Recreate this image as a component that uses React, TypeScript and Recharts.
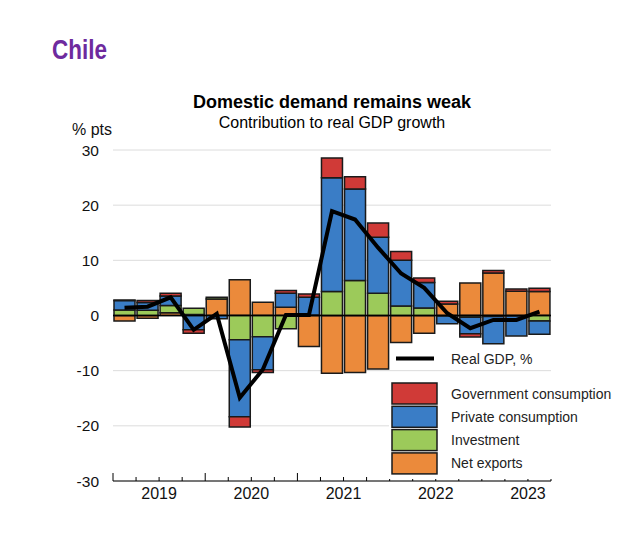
import React from 'react';
import {
  ComposedChart,
  Bar,
  Line,
  XAxis,
  YAxis,
  CartesianGrid,
  ReferenceLine,
} from 'recharts';

// ---- Data ----
const quarters = [
  '2019Q1', '2019Q2', '2019Q3', '2019Q4',
  '2020Q1', '2020Q2', '2020Q3', '2020Q4',
  '2021Q1', '2021Q2', '2021Q3', '2021Q4',
  '2022Q1', '2022Q2', '2022Q3', '2022Q4',
  '2023Q1', '2023Q2', '2023Q3',
];
const years = ['2019', '2020', '2021', '2022', '2023'];

const netExports = [-1.0, -0.5, 0.5, 0.2, 3.0, 6.5, 2.4, 1.5, -5.6, -10.45, -10.35, -9.7, -4.9, -3.2, 2.1, 5.9, 7.7, 4.4, 4.35];
const investment = [1.0, 0.95, 1.3, 1.1, 0.3, -4.4, -3.85, -2.4, 0.1, 4.35, 6.35, 4.05, 1.7, 1.35, -0.1, -0.3, -0.2, -0.1, -1.0];
const privateCons = [1.7, 1.4, 1.75, -2.6, -0.6, -13.95, -6.0, 2.55, 3.2, 20.6, 16.6, 10.15, 8.3, 4.65, -1.4, -3.0, -4.9, -3.6, -2.4];
const governmentCons = [0.1, 0.35, 0.5, -0.6, 0, -1.85, -0.5, 0.5, 0.6, 3.6, 2.2, 2.55, 1.6, 0.8, 0.5, -0.6, 0.45, 0.4, 0.6];
const realGDP = [1.4, 1.6, 3.3, -2.6, 0.3, -14.9, -9.8, 0.1, 0.1, 18.9, 17.4, 12.3, 7.6, 5.0, 0.4, -2.3, -0.8, -0.8, 0.7];

const yTicks = [-30, -20, -10, 0, 10, 20, 30];

const COLORS = {
  gov: '#D03A37',
  priv: '#3A7DC6',
  inv: '#9CCA5A',
  nx: '#EB8A3B',
  purple: '#6E2A9E',
};

const data = quarters.map((q, i) => ({
  q,
  nx: netExports[i],
  inv: investment[i],
  priv: privateCons[i],
  gov: governmentCons[i],
  gdp: realGDP[i],
}));

const FONT = '"Liberation Sans", Arial, Helvetica, sans-serif';

// Tick renderer for the category axis: marks quarter boundaries (taller at year
// boundaries) and places the year label at the middle of each year.
const QuarterTick = (props: any) => {
  const { x, y, payload, width } = props;
  const idx: number = payload.index;
  const half: number =
    typeof payload.offset === 'number' && payload.offset > 0
      ? payload.offset
      : width / quarters.length / 2;
  const left = x - half;
  const right = x + half;
  const lenLeft = idx % 4 === 0 ? 8 : 4;
  const isLast = idx === quarters.length - 1;
  const lenRight = (idx + 1) % 4 === 0 ? 8 : 4;
  const label = idx % 4 === 1 ? years[(idx - 1) / 4] : null;
  return (
    <g>
      <line x1={left} x2={left} y1={y} y2={y - lenLeft} stroke="#000" strokeWidth={1} />
      {isLast && <line x1={right} x2={right} y1={y} y2={y - lenRight} stroke="#000" strokeWidth={1} />}
      {label && (
        <text x={right} y={y + 18} textAnchor="middle" fontSize={16} fill="#111" fontFamily={FONT}>
          {label}
        </text>
      )}
    </g>
  );
};

const legendItems = [
  { label: 'Government consumption', color: COLORS.gov },
  { label: 'Private consumption', color: COLORS.priv },
  { label: 'Investment', color: COLORS.inv },
  { label: 'Net exports', color: COLORS.nx },
];

export default function App() {
  return (
    <div
      style={{
        position: 'absolute',
        left: 0,
        top: 0,
        width: 640,
        height: 533,
        background: '#fff',
        fontFamily: FONT,
      }}
    >
      <ComposedChart
        width={640}
        height={533}
        data={data}
        stackOffset="sign"
        margin={{ top: 150, right: 89, bottom: 22, left: 63 }}
        barSize={21}
      >
        <CartesianGrid vertical={false} stroke="#dcdcdc" strokeWidth={1} />
        <XAxis
          dataKey="q"
          interval={0}
          height={30}
          tickLine={false}
          tickSize={0}
          tickMargin={0}
          axisLine={{ stroke: '#000', strokeWidth: 1 }}
          tick={<QuarterTick />}
        />
        <YAxis
          domain={[-30, 30]}
          ticks={yTicks}
          interval={0}
          width={50}
          axisLine={false}
          tickLine={false}
          tickSize={0}
          tickMargin={14}
          tick={{ fontSize: 15.5, fill: '#111', fontFamily: FONT }}
        />
        <Bar dataKey="nx" stackId="a" fill={COLORS.nx} stroke="#1a1a1a" strokeWidth={1.5} isAnimationActive={false} />
        <Bar dataKey="inv" stackId="a" fill={COLORS.inv} stroke="#1a1a1a" strokeWidth={1.5} isAnimationActive={false} />
        <Bar dataKey="priv" stackId="a" fill={COLORS.priv} stroke="#1a1a1a" strokeWidth={1.5} isAnimationActive={false} />
        <Bar dataKey="gov" stackId="a" fill={COLORS.gov} stroke="#1a1a1a" strokeWidth={1.5} isAnimationActive={false} />
        <ReferenceLine y={0} stroke="#000" strokeWidth={1.5} />
        <Line
          dataKey="gdp"
          type="linear"
          stroke="#000"
          strokeWidth={4}
          dot={false}
          isAnimationActive={false}
        />
      </ComposedChart>

      <svg
        width={640}
        height={533}
        style={{ position: 'absolute', left: 0, top: 0, pointerEvents: 'none' }}
      >
        <text
          x={52}
          y={58.5}
          fontSize={27}
          fontWeight="bold"
          fill={COLORS.purple}
          fontFamily={FONT}
          textLength={55}
          lengthAdjust="spacingAndGlyphs"
        >
          Chile
        </text>
        <text x={332} y={107.5} fontSize={18} fontWeight="bold" fill="#000" textAnchor="middle" fontFamily={FONT}>
          Domestic demand remains weak
        </text>
        <text x={332} y={128} fontSize={16} fill="#000" textAnchor="middle" fontFamily={FONT}>
          Contribution to real GDP growth
        </text>
        <text x={72} y={135} fontSize={16} fill="#111" fontFamily={FONT}>
          % pts
        </text>
        {/* Real GDP legend entry */}
        <line x1={396} x2={434} y1={358.5} y2={358.5} stroke="#000" strokeWidth={4} />
        <text x={451} y={363.5} fontSize={14} fill="#222" fontFamily={FONT}>
          Real GDP, %
        </text>
        <rect x={389} y={377} width={163} height={102} fill="#fff" />
        {legendItems.map((it, i) => (
          <g key={it.label}>
            <rect
              x={392}
              y={383 + i * 23.3}
              width={45}
              height={21}
              fill={it.color}
              stroke="#1a1a1a"
              strokeWidth={1.5}
            />
            <text x={451} y={398.5 + i * 23.3} fontSize={14} fill="#222" fontFamily={FONT}>
              {it.label}
            </text>
          </g>
        ))}
      </svg>
    </div>
  );
}
